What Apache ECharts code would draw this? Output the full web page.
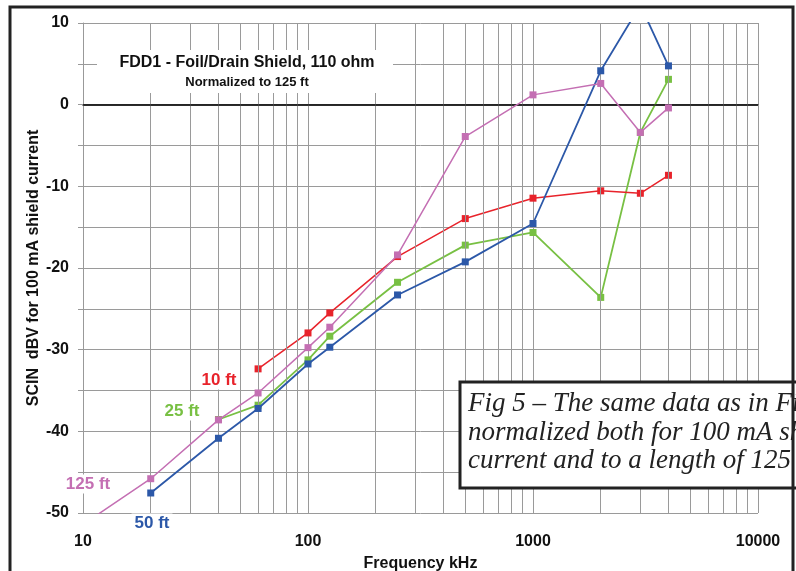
<!DOCTYPE html>
<html>
<head>
<meta charset="utf-8">
<script src="https://cdn.jsdelivr.net/npm/echarts@6/dist/echarts.min.js"></script>
<style>
html,body{margin:0;padding:0;background:#fff;}
#c{width:796px;height:571px;}
</style>
</head>
<body>
<div id="c"></div>
<script>
// Frequencies in kHz
const freqs = [10, 20, 40, 60, 100, 125, 250, 500, 1000, 2000, 3000, 4000];
// SCIN dBV for 100 mA shield current, normalized to 125 ft
const ft10  = [null, null, null, -32.35, -27.95, -25.5, -18.6, -13.95, -11.45, -10.55, -10.85, -8.65];
const ft25  = [null, null, -38.55, -36.8, -31.25, -28.35, -21.75, -17.2, -15.65, -23.6, -3.4, 3.1];
const ft50  = [null, -47.55, -40.85, -37.2, -31.75, -29.7, -23.3, -19.25, -14.55, 4.15, 12.2, 4.75];
const ft125 = [-51.4, -45.8, -38.6, -35.3, -29.75, -27.25, -18.4, -3.9, 1.2, 2.6, -3.4, -0.4];
const seriesNames = ['10 ft', '25 ft', '50 ft', '125 ft'];
const xTickLabels = ['10', '100', '1000', '10000'];
const yTicks = [-50, -40, -30, -20, -10, 0, 10];
const minorFreqs = [20,30,40,50,60,70,80,90,200,300,400,500,600,700,800,900,2000,3000,4000,5000,6000,7000,8000,9000];

const titleText = 'FDD1 - Foil/Drain Shield, 110 ohm';
const subtitleText = 'Normalized to 125 ft';
const captionLines = [
  'Fig 5 \u2013 The same data as in Fig 4, but',
  'normalized both for 100 mA shield',
  'current and to a length of 125 feet.'
];

const colors = { '10 ft': '#e8232b', '25 ft': '#78c043', '50 ft': '#2c58a8', '125 ft': '#c46fb3' };
const FONT = "'Liberation Sans', Arial, sans-serif";
const SERIF = "'Liberation Serif', 'Times New Roman', serif";

function pairs(vals) { return freqs.map((f, i) => [f, vals[i]]); }

const chart = echarts.init(document.getElementById('c'), null, { renderer: 'canvas' });

function lineSeries(name, vals, width, z) {
  return {
    name: name, type: 'line', data: pairs(vals), z: z,
    symbol: 'rect', symbolSize: 7, showAllSymbol: true,
    itemStyle: { color: colors[name] },
    lineStyle: { color: colors[name], width: width },
    connectNulls: false, clip: true, animation: false
  };
}

const option = {
  animation: false,
  backgroundColor: '#fff',
  grid: { left: 83, top: 23, width: 675, height: 490, containLabel: false, outerBoundsMode: 'none' },
  xAxis: {
    type: 'log', logBase: 10, min: 10, max: 10000,
    name: 'Frequency kHz', nameLocation: 'middle', nameGap: 43, nameMoveOverlap: false,
    nameTextStyle: { fontFamily: FONT, fontWeight: 'bold', fontSize: 16, color: '#111' },
    axisLine: { show: true, lineStyle: { color: '#111', width: 1.5 } },
    axisTick: { show: true, length: 5, lineStyle: { color: '#999' } },
    axisLabel: {
      margin: 21, fontFamily: FONT, fontWeight: 'bold', fontSize: 16, color: '#111',
      formatter: function (v) { const s = String(Math.round(v)); return xTickLabels.indexOf(s) >= 0 ? s : ''; }
    },
    splitLine: { show: true, lineStyle: { color: '#9a9a9a', width: 1 } }
  },
  yAxis: {
    type: 'value', min: -50, max: 10, interval: 10,
    name: 'SCIN  dBV for 100 mA shield current', nameLocation: 'middle', nameGap: 41, nameMoveOverlap: false,
    nameTextStyle: { fontFamily: FONT, fontWeight: 'bold', fontSize: 16, color: '#111' },
    axisLine: { show: true, onZero: false, lineStyle: { color: '#999', width: 1 } },
    axisTick: { show: true, length: 5, lineStyle: { color: '#999' } },
    minorTick: { show: true, splitNumber: 2, length: 5, lineStyle: { color: '#999' } },
    minorSplitLine: { show: true, lineStyle: { color: '#9a9a9a', width: 1 } },
    axisLabel: {
      margin: 14, fontFamily: FONT, fontWeight: 'bold', fontSize: 16, color: '#111',
      formatter: function (v) { return yTicks.indexOf(v) >= 0 ? String(v) : ''; }
    },
    splitLine: { show: true, lineStyle: { color: '#9a9a9a', width: 1 } }
  },
  series: [
    {
      name: 'grid', type: 'line', data: [], z: 1, silent: true,
      markLine: {
        silent: true, symbol: 'none', animation: false,
        label: { show: false },
        lineStyle: { color: '#9a9a9a', width: 1, type: 'solid' },
        data: minorFreqs.map(f => ({ xAxis: f }))
          .concat([{ yAxis: 0, lineStyle: { color: '#222', width: 1.5, type: 'solid' } }])
      }
    },
    lineSeries('25 ft', ft25, 1.8, 3),
    lineSeries('10 ft', ft10, 1.5, 4),
    lineSeries('50 ft', ft50, 1.8, 5),
    lineSeries('125 ft', ft125, 1.5, 6)
  ],
  graphic: [
    // title box
    { type: 'rect', z: 50, shape: { x: 97, y: 50, width: 296, height: 43 }, style: { fill: '#fff' } },
    { type: 'text', z: 51, style: { text: titleText, x: 247, y: 63, align: 'center', verticalAlign: 'middle',
      font: "bold 16px " + FONT, fill: '#111' } },
    { type: 'text', z: 51, style: { text: subtitleText, x: 247, y: 82, align: 'center', verticalAlign: 'middle',
      font: "bold 13px " + FONT, fill: '#111' } },
    // series labels
    { type: 'text', z: 51, style: { text: seriesNames[0], x: 219, y: 380, align: 'center', verticalAlign: 'middle',
      font: "bold 17px " + FONT, fill: colors['10 ft'], backgroundColor: '#fff', padding: [1, 3] } },
    { type: 'text', z: 51, style: { text: seriesNames[1], x: 182, y: 411, align: 'center', verticalAlign: 'middle',
      font: "bold 17px " + FONT, fill: colors['25 ft'], backgroundColor: '#fff', padding: [1, 3] } },
    { type: 'text', z: 51, style: { text: seriesNames[3], x: 88, y: 484, align: 'center', verticalAlign: 'middle',
      font: "bold 17px " + FONT, fill: colors['125 ft'], backgroundColor: '#fff', padding: [1, 3] } },
    { type: 'text', z: 51, style: { text: seriesNames[2], x: 152, y: 523, align: 'center', verticalAlign: 'middle',
      font: "bold 17px " + FONT, fill: colors['50 ft'], backgroundColor: '#fff', padding: [1, 3] } },
    // caption box
    { type: 'rect', z: 60, shape: { x: 460, y: 382, width: 400, height: 106 },
      style: { fill: '#fff', stroke: '#222', lineWidth: 3 } },
    { type: 'text', z: 61, style: { text: captionLines[0], x: 468, y: 404, verticalAlign: 'middle',
      font: "italic 27px " + SERIF, fill: '#222' } },
    { type: 'text', z: 61, style: { text: captionLines[1], x: 468, y: 433, verticalAlign: 'middle',
      font: "italic 27px " + SERIF, fill: '#222' } },
    { type: 'text', z: 61, style: { text: captionLines[2], x: 468, y: 461, verticalAlign: 'middle',
      font: "italic 27px " + SERIF, fill: '#222' } },
    // outer frame
    { type: 'rect', z: 70, shape: { x: 10, y: 7, width: 783, height: 620 },
      style: { fill: 'none', stroke: '#222', lineWidth: 3 } }
  ]
};
chart.setOption(option);
</script>
</body>
</html>
